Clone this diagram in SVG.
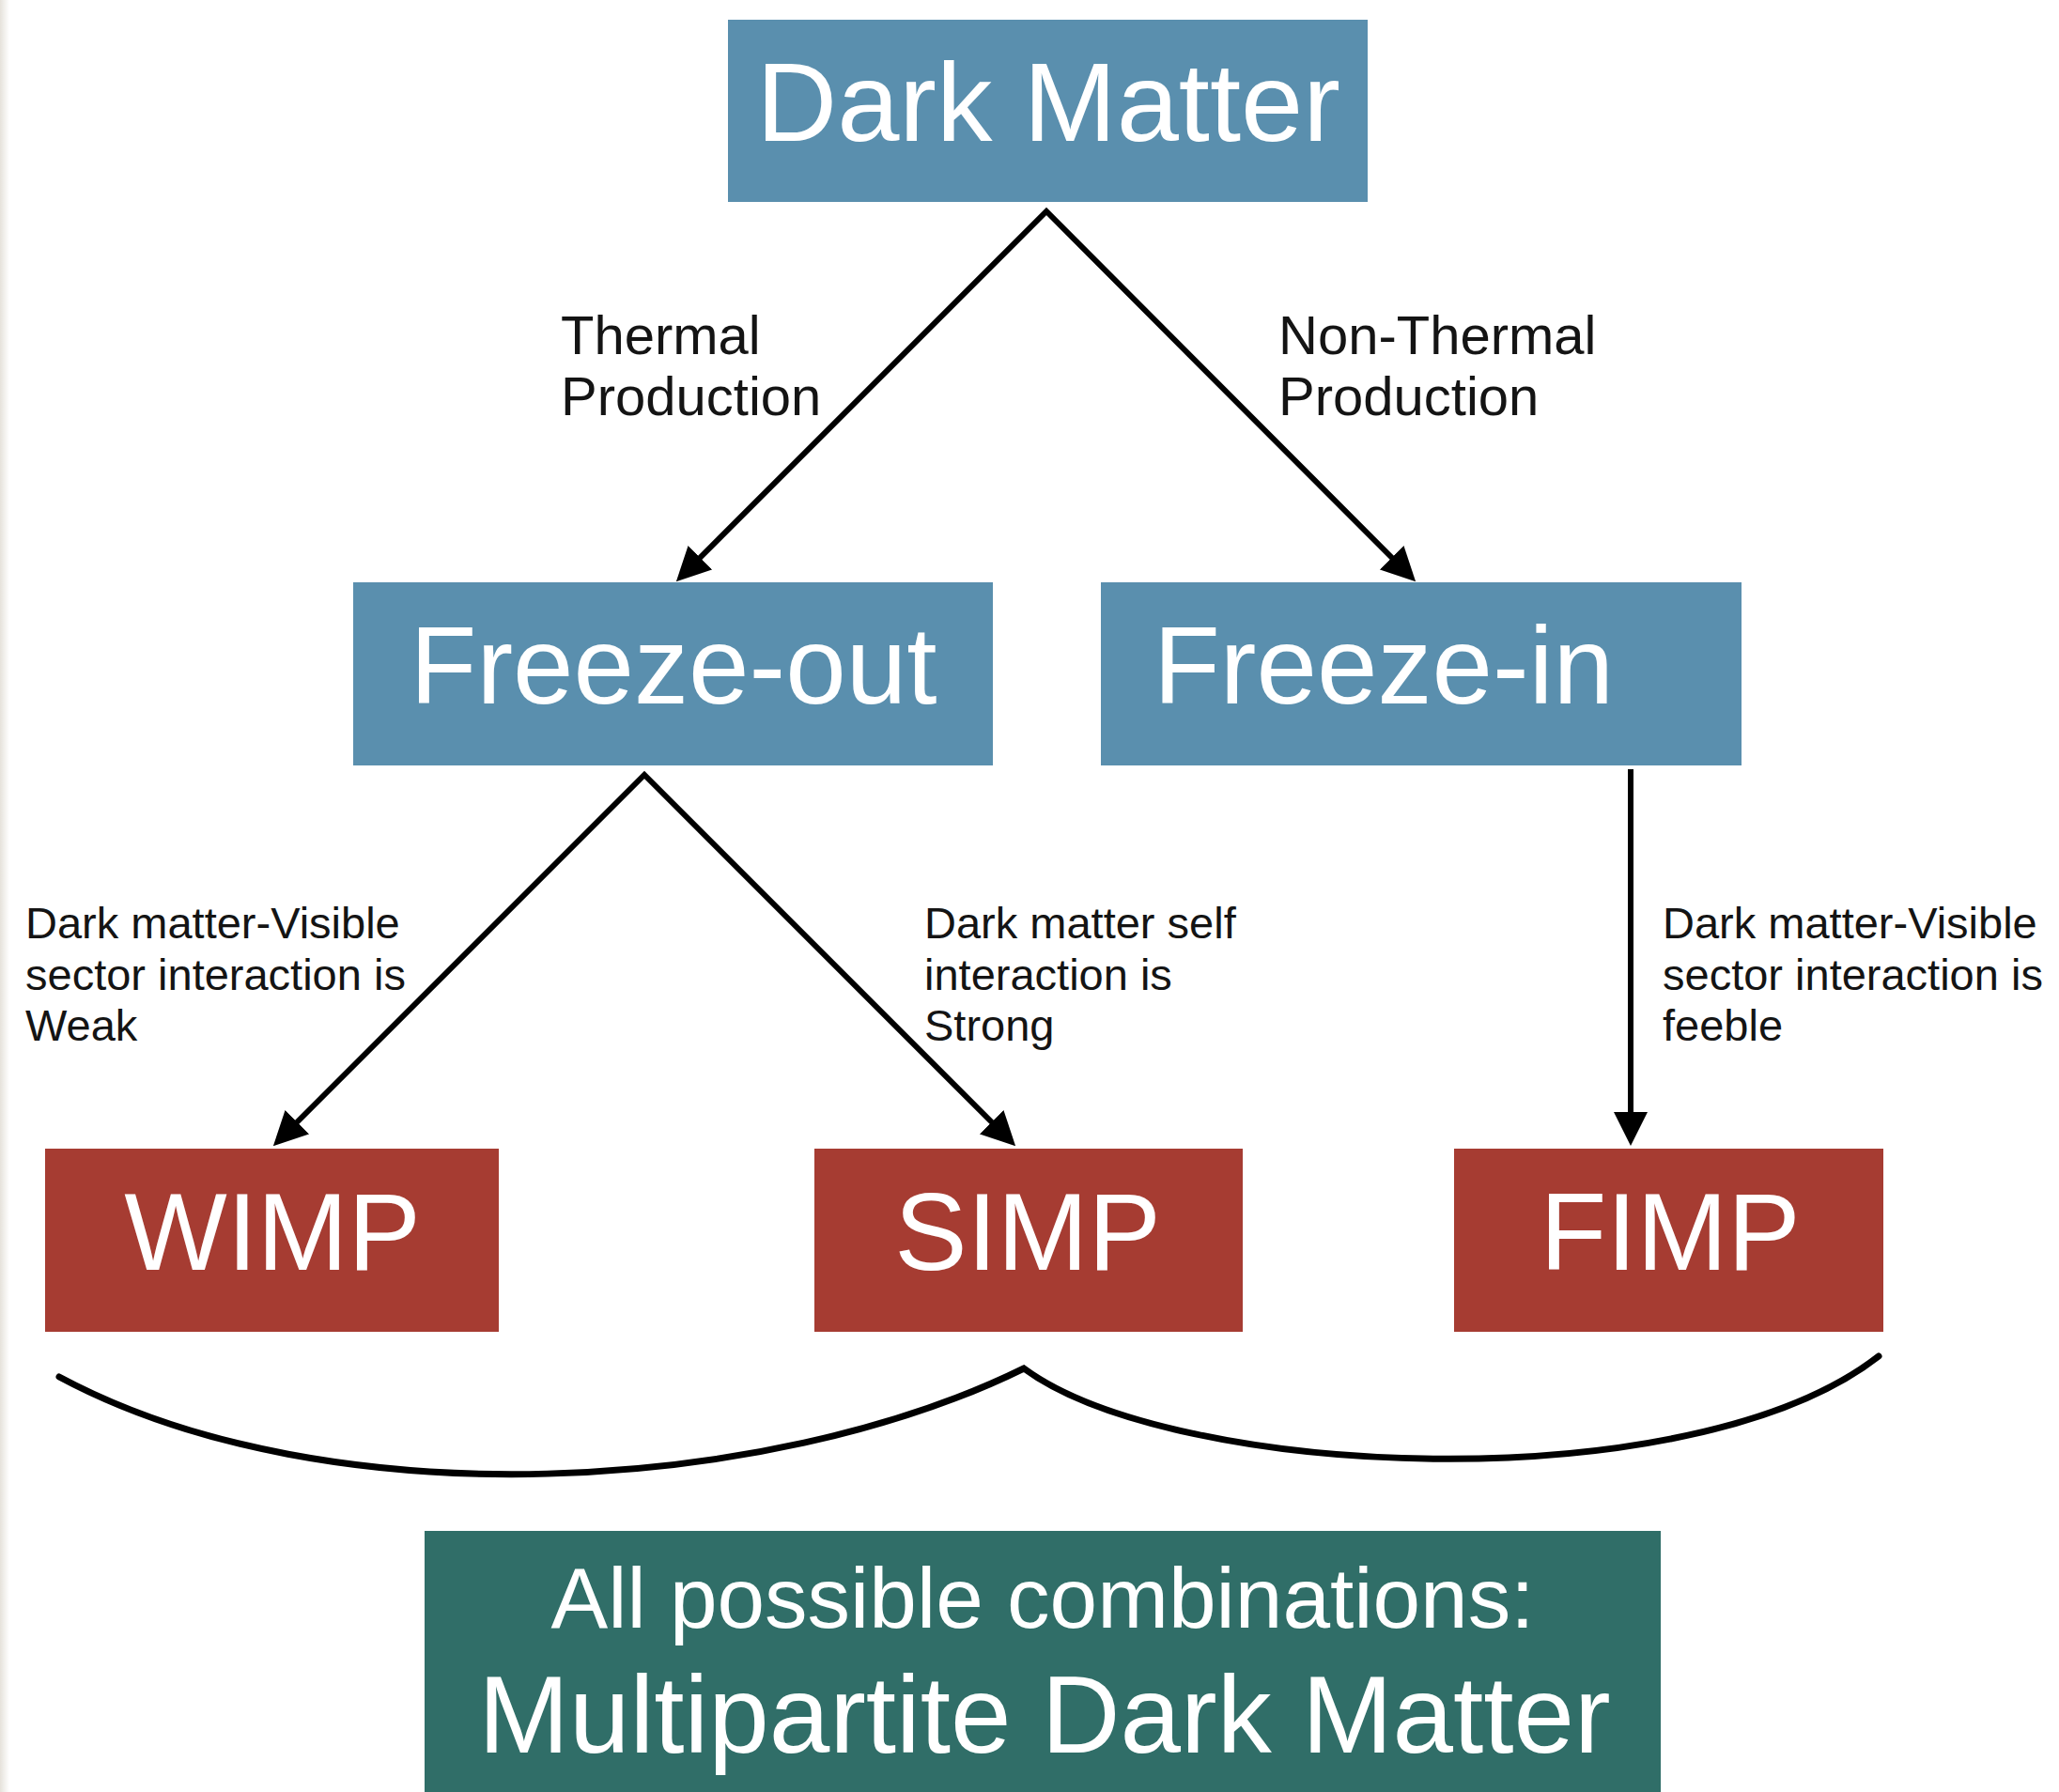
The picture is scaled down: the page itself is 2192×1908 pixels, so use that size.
<svg xmlns="http://www.w3.org/2000/svg" width="2192" height="1908" viewBox="0 0 2192 1908">
  <defs>
    <style>
      .box-blue { fill: #5a8fae; }
      .box-red { fill: #a63c32; }
      .box-green { fill: #306e68; }
      .title { font-family: "Liberation Sans", Arial, Helvetica, sans-serif; fill: #ffffff; }
      .label { font-family: "Liberation Sans", Arial, Helvetica, sans-serif; fill: #141414; }
      .edge { fill: none; stroke: #000000; stroke-width: 6; stroke-linejoin: miter; }
      .brace { fill: none; stroke: #000000; stroke-width: 7; stroke-linecap: round; }
    </style>
    <marker id="arrow" viewBox="0 0 36 36" refX="16" refY="18" markerWidth="36" markerHeight="36" markerUnits="userSpaceOnUse" orient="auto-start-reverse">
      <path d="M0,0 L36,18 L0,36 z" fill="#000000"/>
    </marker>
    <linearGradient id="edgeShade" x1="0" y1="0" x2="1" y2="0">
      <stop offset="0" stop-color="#e6e2db"/>
      <stop offset="1" stop-color="#ffffff"/>
    </linearGradient>
  </defs>

  <!-- page -->
  <rect x="0" y="0" width="2192" height="1908" fill="#ffffff"/>
  <rect x="0" y="0" width="10" height="1908" fill="url(#edgeShade)"/>

  <!-- connectors -->
  <g id="connectors">
    <path id="edge-darkmatter" class="edge" d="M734,605 L1114,225 L1493,605" marker-start="url(#arrow)" marker-end="url(#arrow)"/>
    <path id="edge-freezeout" class="edge" d="M305,1206 L686,825 L1067,1206" marker-start="url(#arrow)" marker-end="url(#arrow)"/>
    <path id="edge-freezein-fimp" class="edge" d="M1736,819 L1736,1200" marker-end="url(#arrow)"/>
    <path id="brace" class="brace" d="M63,1466 C350,1620 820,1590 1090,1457 C1250,1575 1800,1600 2000,1444"/>
  </g>

  <!-- edge labels -->
  <g id="labels">
    <text class="label" font-size="58" x="597" y="377">Thermal</text>
    <text class="label" font-size="58" x="597" y="442">Production</text>
    <text class="label" font-size="58" x="1361" y="377">Non-Thermal</text>
    <text class="label" font-size="58" x="1361" y="442">Production</text>

    <text class="label" font-size="47" x="27" y="999">Dark matter-Visible</text>
    <text class="label" font-size="47" x="27" y="1054">sector interaction is</text>
    <text class="label" font-size="47" x="27" y="1108">Weak</text>

    <text class="label" font-size="47" x="984" y="999">Dark matter self</text>
    <text class="label" font-size="47" x="984" y="1054">interaction is</text>
    <text class="label" font-size="47" x="984" y="1108">Strong</text>

    <text class="label" font-size="47" x="1770" y="999">Dark matter-Visible</text>
    <text class="label" font-size="47" x="1770" y="1054">sector interaction is</text>
    <text class="label" font-size="47" x="1770" y="1108">feeble</text>
  </g>

  <!-- nodes -->
  <g id="node-dark-matter">
    <rect class="box-blue" x="775" y="21" width="681" height="194"/>
    <text class="title" font-size="119" x="1116" y="150" text-anchor="middle">Dark Matter</text>
  </g>
  <g id="node-freeze-out">
    <rect class="box-blue" x="376" y="620" width="681" height="195"/>
    <text class="title" font-size="116" x="717" y="749" text-anchor="middle">Freeze-out</text>
  </g>
  <g id="node-freeze-in">
    <rect class="box-blue" x="1172" y="620" width="682" height="195"/>
    <text class="title" font-size="116" x="1228" y="749">Freeze-in</text>
  </g>
  <g id="node-wimp">
    <rect class="box-red" x="48" y="1223" width="483" height="195"/>
    <text class="title" font-size="116" x="290" y="1352" text-anchor="middle">WIMP</text>
  </g>
  <g id="node-simp">
    <rect class="box-red" x="867" y="1223" width="456" height="195"/>
    <text class="title" font-size="116" x="1094" y="1352" text-anchor="middle">SIMP</text>
  </g>
  <g id="node-fimp">
    <rect class="box-red" x="1548" y="1223" width="457" height="195"/>
    <text class="title" font-size="116" x="1778" y="1352" text-anchor="middle">FIMP</text>
  </g>
  <g id="node-multipartite">
    <rect class="box-green" x="452" y="1630" width="1316" height="290"/>
    <text class="title" font-size="91" x="1110" y="1733" text-anchor="middle">All possible combinations:</text>
    <text class="title" font-size="116" x="1112" y="1866" text-anchor="middle">Multipartite Dark Matter</text>
  </g>
</svg>
